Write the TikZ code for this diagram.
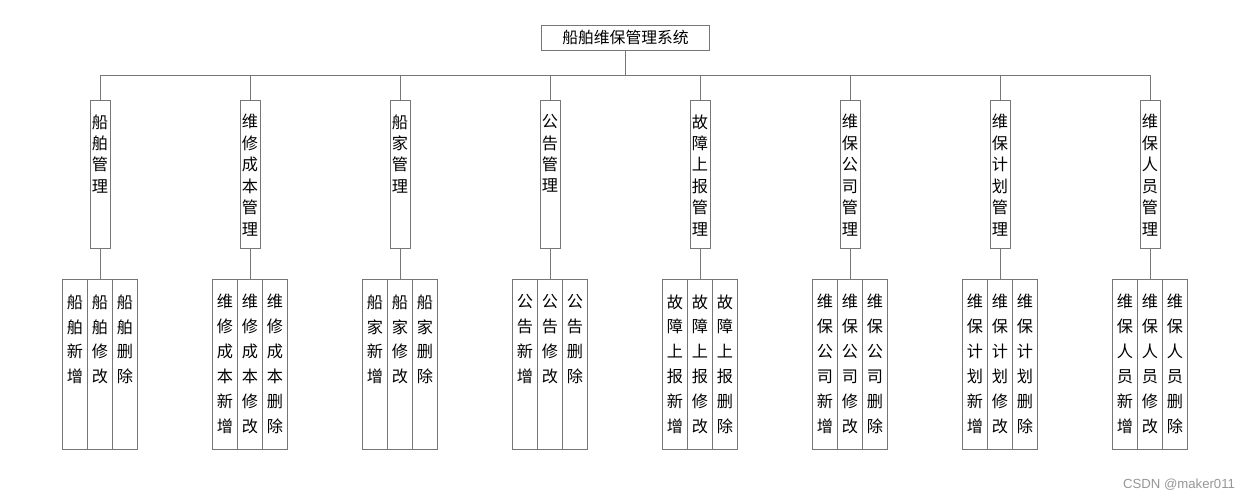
\documentclass[tikz,border=0pt]{standalone}
\usepackage{fontspec}
\newfontfamily\cjk{Noto Sans CJK SC}
\newfontfamily\wm{Liberation Sans}
\definecolor{lc}{RGB}{118,118,118}
\definecolor{wmc}{RGB}{150,150,150}
\newcommand\lvtwo[1]{\parbox[t][2.96cm][t]{0.4cm}{\centering\fontsize{9.2pt}{12.2pt}\selectfont\vspace*{0.28cm}#1}}
\newcommand\lvthree[1]{\parbox[t][3.4cm][t]{0.5cm}{\centering\fontsize{9.2pt}{14.2pt}\selectfont\vspace*{0.30cm}#1}}
\tikzset{
  x=0.02cm, y=-0.02cm,
  every node/.style={font=\cjk},
  titlebox/.style={draw=lc, line width=0.5pt, minimum width=3.36cm, minimum height=0.5cm, inner sep=0pt, font=\cjk\fontsize{9pt}{11pt}\selectfont},
  modbox/.style={draw=lc, line width=0.5pt, inner sep=0pt, anchor=north},
  link/.style={draw=lc, line width=0.5pt}
}
\begin{document}
\begin{tikzpicture}
\useasboundingbox (0,0) rectangle (1250,500);
\node[titlebox] (t) at (625.5,37.5) {船舶维保管理系统};
\coordinate (bus) at (625.5,75);
% level 2
\node[modbox] (b1) at (100,100) {\lvtwo{船\\舶\\管\\理}};
\node[modbox] (b2) at (250,100) {\lvtwo{维\\修\\成\\本\\管\\理}};
\node[modbox] (b3) at (400,100) {\lvtwo{船\\家\\管\\理}};
\node[modbox] (b4) at (550,100) {\lvtwo{公\\告\\管\\理}};
\node[modbox] (b5) at (700,100) {\lvtwo{故\\障\\上\\报\\管\\理}};
\node[modbox] (b6) at (850,100) {\lvtwo{维\\保\\公\\司\\管\\理}};
\node[modbox] (b7) at (1000,100) {\lvtwo{维\\保\\计\\划\\管\\理}};
\node[modbox] (b8) at (1150,100) {\lvtwo{维\\保\\人\\员\\管\\理}};
% level 3
\node[modbox] (c11) at (75,279) {\lvthree{船\\舶\\新\\增}};
\node[modbox] (c12) at (100,279) {\lvthree{船\\舶\\修\\改}};
\node[modbox] (c13) at (125,279) {\lvthree{船\\舶\\删\\除}};
\node[modbox] (c21) at (225,279) {\lvthree{维\\修\\成\\本\\新\\增}};
\node[modbox] (c22) at (250,279) {\lvthree{维\\修\\成\\本\\修\\改}};
\node[modbox] (c23) at (275,279) {\lvthree{维\\修\\成\\本\\删\\除}};
\node[modbox] (c31) at (375,279) {\lvthree{船\\家\\新\\增}};
\node[modbox] (c32) at (400,279) {\lvthree{船\\家\\修\\改}};
\node[modbox] (c33) at (425,279) {\lvthree{船\\家\\删\\除}};
\node[modbox] (c41) at (525,279) {\lvthree{公\\告\\新\\增}};
\node[modbox] (c42) at (550,279) {\lvthree{公\\告\\修\\改}};
\node[modbox] (c43) at (575,279) {\lvthree{公\\告\\删\\除}};
\node[modbox] (c51) at (675,279) {\lvthree{故\\障\\上\\报\\新\\增}};
\node[modbox] (c52) at (700,279) {\lvthree{故\\障\\上\\报\\修\\改}};
\node[modbox] (c53) at (725,279) {\lvthree{故\\障\\上\\报\\删\\除}};
\node[modbox] (c61) at (825,279) {\lvthree{维\\保\\公\\司\\新\\增}};
\node[modbox] (c62) at (850,279) {\lvthree{维\\保\\公\\司\\修\\改}};
\node[modbox] (c63) at (875,279) {\lvthree{维\\保\\公\\司\\删\\除}};
\node[modbox] (c71) at (975,279) {\lvthree{维\\保\\计\\划\\新\\增}};
\node[modbox] (c72) at (1000,279) {\lvthree{维\\保\\计\\划\\修\\改}};
\node[modbox] (c73) at (1025,279) {\lvthree{维\\保\\计\\划\\删\\除}};
\node[modbox] (c81) at (1125,279) {\lvthree{维\\保\\人\\员\\新\\增}};
\node[modbox] (c82) at (1150,279) {\lvthree{维\\保\\人\\员\\修\\改}};
\node[modbox] (c83) at (1175,279) {\lvthree{维\\保\\人\\员\\删\\除}};
% connectors
\draw[link] (t.south) -- (bus);
\foreach \i in {1,...,8} {
  \draw[link] (b\i.north) |- (bus);
  \draw[link] (b\i.south) -- (c\i2.north);
}
\node[font=\wm\fontsize{7.5pt}{9pt}\selectfont, text=wmc, inner sep=0pt] (wmk) at (1179,484.5) {CSDN @maker011};
\end{tikzpicture}
\end{document}
